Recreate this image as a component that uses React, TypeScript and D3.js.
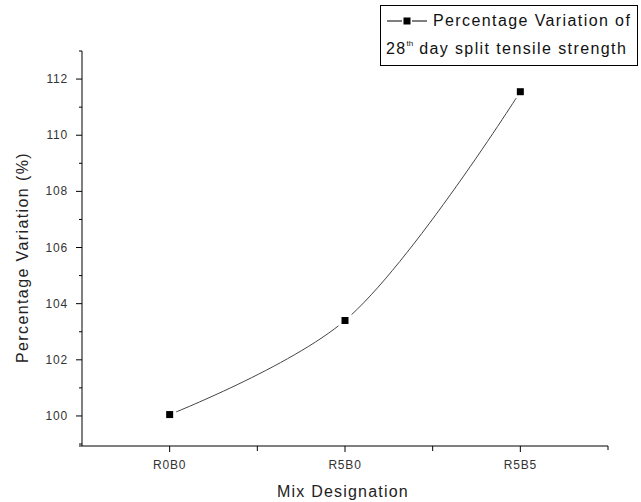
import React from "react";
import * as d3 from "d3";

const categories = ["R0B0", "R5B0", "R5B5"];
const values = [100.05, 103.4, 111.55];
const yMajorTicks = [100, 102, 104, 106, 108, 110, 112];
const yMinorTicks = [99, 101, 103, 105, 107, 109, 111, 113];
const xMinorTicks = [0.5, 1.5];
const legendLine1 = "Percentage Variation of";
const legendLine2Pre = "28";
const legendLine2Sup = "th";
const legendLine2Post = " day split tensile strength";
const yLabel = "Percentage Variation (%)";
const xLabel = "Mix Designation";

export default function App() {
  const W = 641, H = 502;
  const left = 82, right = 608, top = 51, bottom = 446;
  const x = d3.scaleLinear().domain([-0.5, 2.5]).range([left, right]);
  const y = d3.scaleLinear().domain([98.93, 113]).range([bottom, top]);
  const pts: [number, number][] = values.map((v, i) => [x(i), y(v)]);
  const line = d3.line<[number, number]>().curve(d3.curveCatmullRom.alpha(0.5));
  const path = line(pts) || "";
  const font = "Arial, 'Liberation Sans', sans-serif";
  const tickColor = "#333";
  return (
    <svg width={W} height={H} style={{ position: "absolute", left: 0, top: 0, background: "#fff" }}>
      <rect x={0} y={0} width={W} height={H} fill="#fff" />
      {/* axes */}
      <line x1={left} y1={top} x2={left} y2={bottom} stroke="#000" strokeWidth={1} />
      <line x1={left} y1={bottom} x2={right} y2={bottom} stroke="#000" strokeWidth={1} />
      {yMajorTicks.map((t) => (
        <g key={"ym" + t}>
          <line x1={left - 6} x2={left} y1={y(t)} y2={y(t)} stroke="#000" />
          <text x={left - 14} y={y(t) + 4} textAnchor="end" fontSize={12} fontFamily={font} fill={tickColor} letterSpacing={0.8}>{t}</text>
        </g>
      ))}
      {yMinorTicks.map((t) => (
        <line key={"yn" + t} x1={left - 3} x2={left} y1={y(t)} y2={y(t)} stroke="#000" />
      ))}
      <line x1={left - 3} x2={left} y1={bottom} y2={bottom} stroke="#000" />
      {categories.map((c, i) => (
        <g key={c}>
          <line x1={x(i)} x2={x(i)} y1={bottom} y2={bottom + 6} stroke="#000" />
          <text x={x(i)} y={bottom + 23} textAnchor="middle" fontSize={12} fontFamily={font} fill={tickColor} letterSpacing={0.8}>{c}</text>
        </g>
      ))}
      {xMinorTicks.map((t) => (
        <line key={"xn" + t} x1={x(t)} x2={x(t)} y1={bottom} y2={bottom + 5} stroke="#000" />
      ))}
      <line x1={right} x2={right} y1={bottom} y2={bottom + 4} stroke="#000" />
      {/* line */}
      <path d={path} fill="none" stroke="#444" strokeWidth={1} />
      {pts.map((p, i) => (
        <rect key={"w" + i} x={p[0] - 6.5} y={p[1] - 6.5} width={13} height={13} fill="#fff" />
      ))}
      {pts.map((p, i) => (
        <rect key={"m" + i} x={p[0] - 3.5} y={p[1] - 3.5} width={7} height={7} fill="#000" />
      ))}
      {/* axis labels */}
      <text transform={`translate(28,${(top + bottom) / 2 + 9}) rotate(-90)`} textAnchor="middle" fontSize={16} fontFamily={font} fill="#222" letterSpacing={1.4}>{yLabel}</text>
      <text x={343} y={497} textAnchor="middle" fontSize={16} fontFamily={font} fill="#222" letterSpacing={1.2}>{xLabel}</text>
      {/* legend */}
      <rect x={380.5} y={5.5} width={257} height={60} fill="#fff" stroke="#000" strokeWidth={1} />
      <line x1={387} x2={427} y1={21} y2={21} stroke="#000" strokeWidth={1.2} />
      <line x1={402} x2={412} y1={21} y2={21} stroke="#fff" strokeWidth={3} />
      <rect x={403.5} y={17.5} width={7} height={7} fill="#000" />
      <text x={433} y={26} fontSize={16} fontFamily={font} fill="#111" letterSpacing={1.4}>{legendLine1}</text>
      <text x={386} y={54} fontSize={16} fontFamily={font} fill="#111" letterSpacing={1.4}>
        {legendLine2Pre}
        <tspan fontSize={8} dy={-8} letterSpacing={0}>{legendLine2Sup}</tspan>
        <tspan dy={8}>{legendLine2Post}</tspan>
      </text>
    </svg>
  );
}
